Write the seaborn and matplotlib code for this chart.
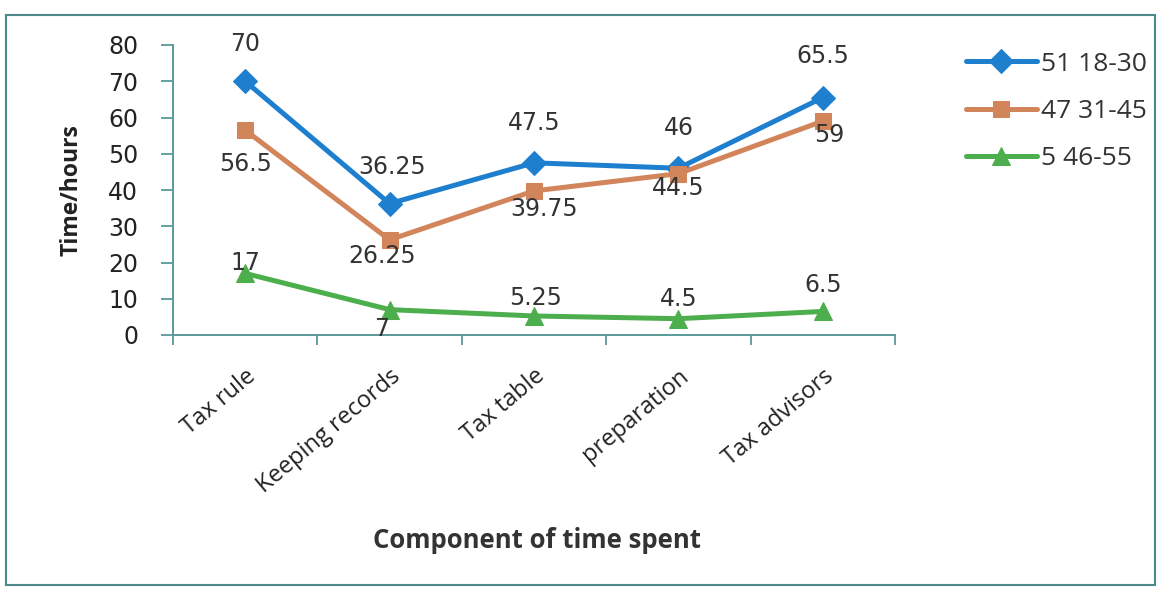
import matplotlib
matplotlib.use("Agg")
import matplotlib.pyplot as plt
import seaborn as sns
import pandas as pd
from matplotlib.patches import Rectangle

categories = ["Tax rule", "Keeping records", "Tax table", "preparation", "Tax advisors"]
series_names = ["51 18-30", "47 31-45", "5 46-55"]
vals_18_30 = [70, 36.25, 47.5, 46, 65.5]
vals_31_45 = [56.5, 26.25, 39.75, 44.5, 59]
vals_46_55 = [17, 7, 5.25, 4.5, 6.5]
y_ticks = [0, 10, 20, 30, 40, 50, 60, 70, 80]

colors = ["#1f7fcf", "#d2845a", "#4cae4c"]
markers = ["D", "s", "^"]
msizes = [12, 12, 13]
# label offsets (pixels) per series
label_offsets = [
    [(0, 37), (2, 37), (0, 40), (0, 40), (0, 42)],
    [(0, -34), (-8, -16), (10, -18), (0, -14), (6, -14)],
    [(0, 10), (-8, -19), (2, 18), (0, 20), (0, 26)],
]

sns.set_theme(style="white")
plt.rcParams["font.family"] = ["DejaVu Sans"]

fig = plt.figure(figsize=(11.58, 5.92), dpi=100)
ax = fig.add_axes([173/1158, 1-335/592, (895-173)/1158, (335-45)/592])

all_vals = [vals_18_30, vals_31_45, vals_46_55]
for name, vals, c, m, ms in zip(series_names, all_vals, colors, markers, msizes):
    df = pd.DataFrame({"cat": categories, "val": vals})
    sns.lineplot(data=df, x="cat", y="val", ax=ax, color=c, marker=m,
                 markersize=ms, markeredgecolor=c, linewidth=3.6, label=name,
                 sort=False)

for vals, offs in zip(all_vals, label_offsets):
    for i, (v, o) in enumerate(zip(vals, offs)):
        ax.annotate(f"{v:g}", (i, v), xytext=o, textcoords="offset pixels",
                    ha="center", va="center", fontsize=17, color="#333333")

ax.set_xlim(-0.5, 4.5)
ax.set_ylim(0, 80)
ax.set_yticks(y_ticks)
ax.set_yticklabels([str(t) for t in y_ticks], fontsize=17, color="#222222")
ax.set_xticks(range(len(categories)))
ax.set_xticklabels(categories, rotation=40, ha="right", rotation_mode="anchor",
                   fontsize=17, family="Open Sans", color="#222222")
ax.set_xticks([i - 0.5 for i in range(len(categories) + 1)], minor=True)
ax.tick_params(axis="x", which="major", length=0, pad=21)
ax.tick_params(axis="x", which="minor", length=7, color="#5a9a9a", width=1.3, direction="out", bottom=True)
ax.tick_params(axis="y", length=9, color="#5a9a9a", width=1.3, direction="out", left=True, pad=16)

for s in ["top", "right"]:
    ax.spines[s].set_visible(False)
for s in ["left", "bottom"]:
    ax.spines[s].set_color("#5a9a9a")
    ax.spines[s].set_linewidth(1.4)

ax.set_xlabel("")
ax.set_ylabel("")
fig.text(537/1158, 1-540/592, "Component of time spent", ha="center", va="center",
         fontsize=18.5, fontweight="bold", family="Open Sans", color="#333333")
fig.text(72/1158, 1-190/592, "Time/hours", ha="center", va="center", rotation=90,
         fontsize=16.5, fontweight="bold", family="Open Sans", color="#222222")

leg = ax.legend(loc="upper left", bbox_to_anchor=(955/1158, 1-41/592),
                bbox_transform=fig.transFigure, frameon=False,
                prop={"family": "Open Sans", "size": 19}, handlelength=2.7,
                handletextpad=0.15, labelspacing=0.85, borderaxespad=0)
for t in leg.get_texts():
    t.set_color("#333333")

fig.patches.append(Rectangle((6/1158, 1-585/592), (1155-6)/1158, (585-15)/592,
                             transform=fig.transFigure, fill=False,
                             edgecolor="#4a8a8a", linewidth=1.5))

fig.savefig("out.png", dpi=100)
